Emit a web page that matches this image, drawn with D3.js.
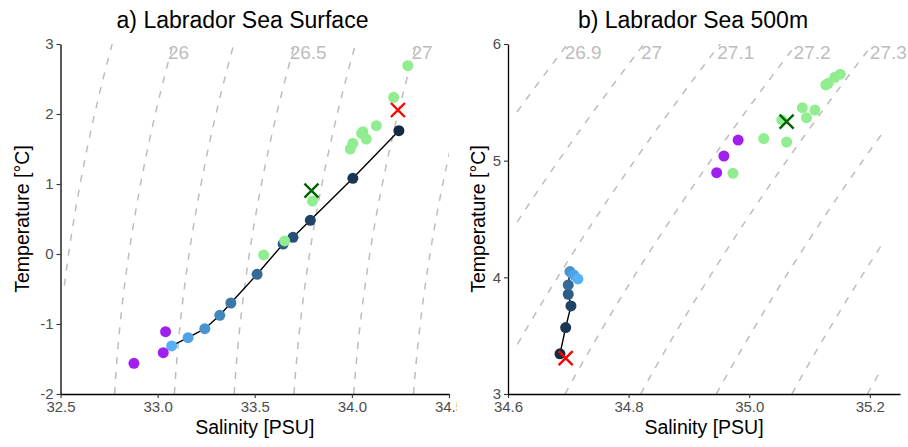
<!DOCTYPE html>
<meta charset="utf-8">
<style>
    body { margin: 0; background: #fff; }
    text { font-family: "Liberation Sans", Arial, sans-serif; }
    .tick text { fill: #4d4d4d; font-size: 15px; }
    .tick line { stroke: #333; stroke-width: 1.1px; }
    .domain { stroke: #000; stroke-width: 1.3px; }
    .iso { fill: none; stroke: #bdbdbd; stroke-width: 1.5px; stroke-dasharray: 7, 8; }
    .isolabel { fill: #bdbdbd; font-size: 19px; }
    .title { font-size: 23px; fill: #000; }
    .axtitle { font-size: 19.5px; fill: #000; }
</style>
<body>
<script src="https://cdn.jsdelivr.net/npm/d3@7"></script>
<script>

// ---- a) surface: salinity / temperature
var surfLineS = [33.072, 33.157, 33.243, 33.320, 33.377, 33.512, 33.646, 33.697, 33.786, 34.005, 34.242];
var surfLineT = [-1.314, -1.196, -1.067, -0.876, -0.700, -0.290, 0.143, 0.239, 0.481, 1.081, 1.761];
var surfLineShade = [10, 9, 8, 7, 6, 5, 4, 3, 2, 1, 0];
var surfPurpleS = [33.041, 33.029, 32.878];
var surfPurpleT = [-1.110, -1.410, -1.561];
var surfGreenS = [33.546, 33.654, 33.797, 33.992, 34.005, 34.057, 34.050, 34.074, 34.126, 34.215, 34.288];
var surfGreenT = [-0.014, 0.186, 0.757, 1.500, 1.581, 1.747, 1.723, 1.643, 1.833, 2.239, 2.690];
var surfGreenX = [33.792, 0.904];
var surfRedX = [34.237, 2.057];
var surfLevels = [25.75, 26, 26.25, 26.5, 26.75, 27, 27.25];
var surfLabels = [26, 26.5, 27];

// ---- b) 500 m
var deepLineS = [34.6862, 34.6956, 34.7044, 34.6999, 34.6999, 34.7027, 34.709, 34.716];
var deepLineT = [3.344, 3.569, 3.755, 3.855, 3.935, 4.049, 4.021, 3.986];
var deepLineShade = [0, 1, 2, 4, 5, 8, 9, 10];
var deepPurpleS = [34.9816, 34.958, 34.946];
var deepPurpleT = [5.177, 5.040, 4.897];
var deepGreenS = [34.973, 35.024, 35.062, 35.054, 35.088, 35.095, 35.109, 35.127, 35.131, 35.142, 35.151];
var deepGreenT = [4.892, 5.189, 5.160, 5.349, 5.454, 5.368, 5.434, 5.649, 5.663, 5.715, 5.741];
var deepGreenX = [35.062, 5.334];
var deepRedX = [34.6956, 3.307];
var deepLevels = [26.9, 27.0, 27.1, 27.2, 27.3, 27.4, 27.5, 27.6];
var deepLabels = [26.9, 27.0, 27.1, 27.2, 27.3];

// density (UNESCO 1980, p = 0) minus 1000
function sigma0(S, T) {
    var rw = 999.842594 + 6.793952e-2 * T - 9.095290e-3 * T * T + 1.001685e-4 * Math.pow(T, 3)
        - 1.120083e-6 * Math.pow(T, 4) + 6.536332e-9 * Math.pow(T, 5);
    var A = 0.824493 - 4.0899e-3 * T + 7.6438e-5 * T * T - 8.2467e-7 * Math.pow(T, 3) + 5.3875e-9 * Math.pow(T, 4);
    var B = -5.72466e-3 + 1.0227e-4 * T - 1.6546e-6 * T * T;
    return rw + A * S + B * Math.pow(S, 1.5) + 4.8314e-4 * S * S - 1000;
}

var shadeColor = d3.scaleLinear().domain([0, 10])
    .range(["#132B43", "#56B1F7"])
    .interpolate(d3.interpolateLab);

var svg = d3.select("body").append("svg")
    .attr("width", 908)
    .attr("height", 447);

var panels = [
    {
        id: "a", title: "a) Labrador Sea Surface", titleX: 242.5,
        xDomain: [32.5, 34.5], xRange: [60.5, 449], xTicks: [32.5, 33, 33.5, 34, 34.5],
        yDomain: [-2, 3], yTicks: [-2, -1, 0, 1, 2, 3], yLabelX: 29,
        gridS: [32.52, 34.55], offset: 0.352, tScale: 0.9, labelDx: -5,
        levels: surfLevels, labels: surfLabels,
        lineS: surfLineS, lineT: surfLineT, shade: surfLineShade,
        purpleS: surfPurpleS, purpleT: surfPurpleT, greenS: surfGreenS, greenT: surfGreenT,
        greenX: surfGreenX, redX: surfRedX
    },
    {
        id: "b", title: "b) Labrador Sea 500m", titleX: 693,
        xDomain: [34.6, 35.25], xRange: [508, 900], xTicks: [34.6, 34.8, 35.0, 35.2],
        yDomain: [3, 6], yTicks: [3, 4, 5, 6], yLabelX: 485,
        gridS: [34.615, 35.22], offset: 0.415, tScale: 0.92, labelDx: -3,
        levels: deepLevels, labels: deepLabels,
        lineS: deepLineS, lineT: deepLineT, shade: deepLineShade,
        purpleS: deepPurpleS, purpleT: deepPurpleT, greenS: deepGreenS, greenT: deepGreenT,
        greenX: deepGreenX, redX: deepRedX
    }
];

var plotTop = 44, plotBottom = 394;

panels.forEach(function(p, pi) {
    var g = svg.append("g").attr("class", "panel-" + p.id);

    // right panel background hides the overflowing "34.5"
    if (pi == 1) {
        g.append("rect").attr("x", 457).attr("y", 0)
            .attr("width", 908 - 457).attr("height", 447).attr("fill", "#fff");
    }

    var x = d3.scaleLinear().domain(p.xDomain).range(p.xRange);
    var y = d3.scaleLinear().domain(p.yDomain).range([plotBottom, plotTop]);

    g.append("clipPath").attr("id", "clip-" + p.id)
        .append("rect")
        .attr("x", p.xRange[0]).attr("y", plotTop)
        .attr("width", p.xRange[1] - p.xRange[0])
        .attr("height", plotBottom - plotTop);

    // density field used for the isopycnals, temperature effect damped a bit
    var tRef = p.yDomain[1];
    function dens(s, t) {
        return p.tScale * sigma0(s, t) + (1 - p.tScale) * sigma0(s, tRef) - p.offset;
    }

    // isopycnals: for each temperature find the salinity on the level
    var iso = g.append("g").attr("clip-path", "url(#clip-" + p.id + ")");
    var line = d3.line()
        .defined(function(d) { return d; })
        .x(function(d) { return x(d[0]); })
        .y(function(d) { return y(d[1]); });

    p.levels.forEach(function(lev) {
        var pts = [];
        var n = 500;
        for (var i = 0; i <= n; i++) {
            var t = p.yDomain[0] + (p.yDomain[1] - p.yDomain[0]) * i / n;
            var lo = p.gridS[0], hi = p.gridS[1];
            if (dens(lo, t) > lev || dens(hi, t) < lev) { pts.push(null); continue; }
            for (var k = 0; k < 40; k++) {
                var m = (lo + hi) / 2;
                if (dens(m, t) > lev) hi = m; else lo = m;
            }
            pts.push([(lo + hi) / 2, t]);
        }
        iso.append("path").attr("class", "iso").attr("d", line(pts));

        var last = pts[n];
        if (last && p.labels.indexOf(lev) >= 0) {
            g.append("text")
                .attr("class", "isolabel")
                .attr("x", x(last[0]) + p.labelDx)
                .attr("y", plotTop + 8)
                .attr("dy", "0.35em")
                .text(String(+lev.toFixed(2)));
        }
    });

    // axes
    g.append("g")
        .attr("transform", "translate(0," + plotBottom + ")")
        .call(d3.axisBottom(x).tickValues(p.xTicks).tickFormat(d3.format(".1f"))
            .tickSize(4).tickSizeOuter(0).tickPadding(3));
    g.append("g")
        .attr("transform", "translate(" + p.xRange[0] + ",0)")
        .call(d3.axisLeft(y).tickValues(p.yTicks).tickFormat(function(d) { return String(d); })
            .tickSize(4).tickSizeOuter(0).tickPadding(3));

    // connected series
    var path = d3.line()
        .x(function(d, i) { return x(p.lineS[i]); })
        .y(function(d, i) { return y(p.lineT[i]); });
    g.append("path")
        .attr("d", path(p.lineS))
        .attr("fill", "none")
        .attr("stroke", "#000")
        .attr("stroke-width", 1.4);

    g.selectAll(".dot").data(p.lineS).enter().append("circle")
        .attr("class", "dot")
        .attr("cx", function(d) { return x(d); })
        .attr("cy", function(d, i) { return y(p.lineT[i]); })
        .attr("r", 5.5)
        .attr("fill", function(d, i) { return shadeColor(p.shade[i]); });

    g.selectAll(".purple").data(p.purpleS).enter().append("circle")
        .attr("class", "purple")
        .attr("cx", function(d) { return x(d); })
        .attr("cy", function(d, i) { return y(p.purpleT[i]); })
        .attr("r", 5.5)
        .attr("fill", "#A020F0");

    g.selectAll(".green").data(p.greenS).enter().append("circle")
        .attr("class", "green")
        .attr("cx", function(d) { return x(d); })
        .attr("cy", function(d, i) { return y(p.greenT[i]); })
        .attr("r", 5.5)
        .attr("fill", "#90EE90");

    [[p.greenX, "#006400"], [p.redX, "#FF0000"]].forEach(function(c) {
        g.append("path")
            .attr("transform", "translate(" + x(c[0][0]) + "," + y(c[0][1]) + ")")
            .attr("d", "M-7,-7L7,7M-7,7L7,-7")
            .attr("stroke", c[1])
            .attr("stroke-width", 2.4);
    });

    // titles
    g.append("text").attr("class", "title")
        .attr("x", p.titleX).attr("y", 28)
        .attr("text-anchor", "middle")
        .text(p.title);
    g.append("text").attr("class", "axtitle")
        .attr("x", (p.xRange[0] + p.xRange[1]) / 2).attr("y", 434)
        .attr("text-anchor", "middle")
        .text("Salinity [PSU]");
    g.append("text").attr("class", "axtitle")
        .attr("transform", "translate(" + p.yLabelX + "," + ((plotTop + plotBottom) / 2) + ")rotate(-90)")
        .attr("text-anchor", "middle")
        .text("Temperature [°C]");
});

</script>
</body>
